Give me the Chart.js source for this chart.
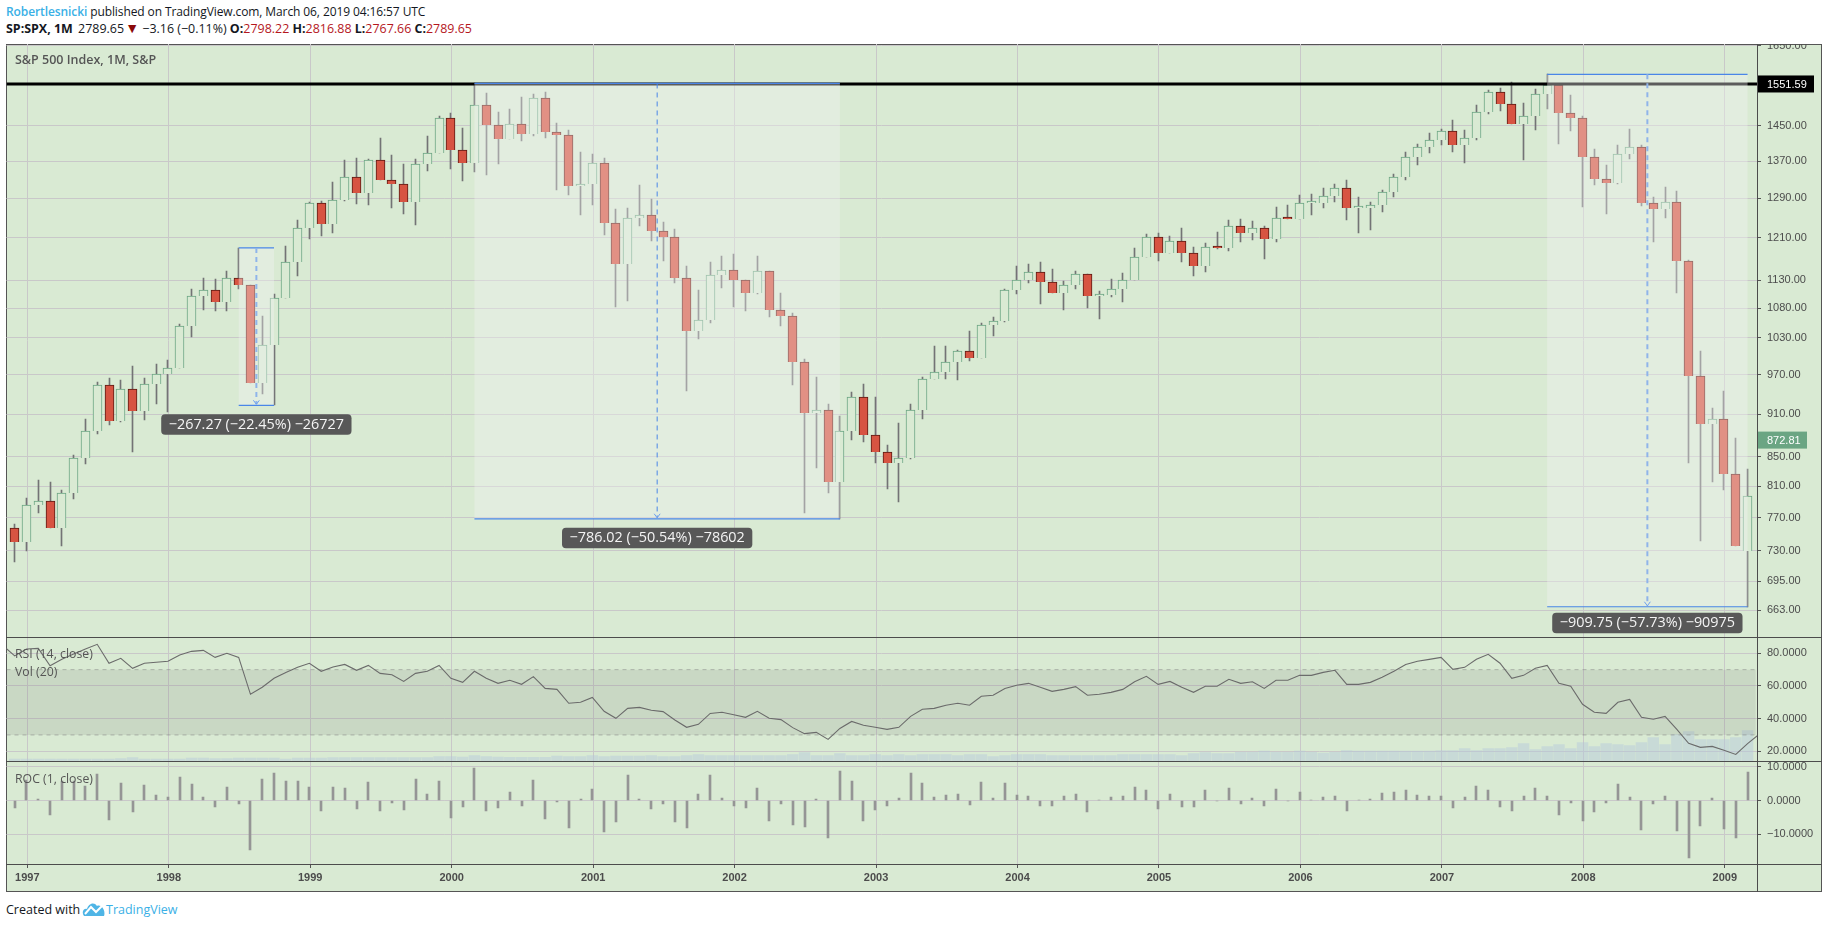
<!DOCTYPE html>
<html><head><meta charset="utf-8">
<script src="https://cdn.jsdelivr.net/npm/chart.js@4/dist/chart.umd.js"></script>
<style>
html,body{margin:0;padding:0;background:#fff;width:1828px;height:928px;overflow:hidden;font-family:"Open Sans",sans-serif;}
#frame{position:absolute;left:6px;top:44px;width:1816px;height:848px;box-sizing:border-box;background:#d9ead3;border:1.5px solid #555;}
.ln{position:absolute;background:#4c4c4c;z-index:5;}
canvas{position:absolute;left:0;z-index:2;}
.hd{position:absolute;left:6px;font-size:12px;white-space:nowrap;color:#131722;letter-spacing:-0.1px;line-height:16px;}
.hd b{font-weight:700;}
.red{color:#b5171d;}
#foot{position:absolute;left:6px;top:901px;font-size:12.5px;color:#131722;line-height:18px;white-space:nowrap;}
#foot svg{position:absolute;left:76px;top:0;}
#foot span{position:absolute;left:100px;color:#3ab0e6;}
</style></head><body>
<div id="frame"></div>
<div class="ln" style="left:6px;top:636.5px;width:1816px;height:1.5px"></div>
<div class="ln" style="left:6px;top:760.5px;width:1816px;height:1.5px"></div>
<div class="ln" style="left:6px;top:863.5px;width:1816px;height:1.5px"></div>
<div class="ln" style="left:1756.5px;top:44px;width:1.5px;height:848px"></div>
<canvas id="main" width="1828" height="593" style="top:44px"></canvas>
<canvas id="rsi" width="1828" height="124" style="top:637px"></canvas>
<canvas id="roc" width="1828" height="131" style="top:761px"></canvas>
<div class="hd" style="top:4px"><span style="color:#3ab0e6;font-weight:600">Robertlesnicki</span> published on TradingView.com, March 06, 2019 04:16:57 UTC</div>
<div class="hd" style="top:21px;font-size:12.45px;letter-spacing:0"><b>SP:SPX, 1M</b> &thinsp;2789.65 <span style="color:#8b0a0a;font-size:14px;line-height:14px;margin-left:-2px">▼</span> −3.16 (−0.11%) <b>O:</b><span class="red">2798.22</span> <b>H:</b><span class="red">2816.88</span> <b>L:</b><span class="red">2767.66</span> <b>C:</b><span class="red">2789.65</span></div>
<div id="foot">Created with
<svg width="24" height="16" viewBox="0 0 24 16"><path d="M2 15 C-1 11 2 7 5 8 C6 3 12 0 15 5 C19 3 24 9 22 15 Z" fill="#4fb5e6"/><path d="M3 13 L9 6 L14 11 L20 5" stroke="#fff" stroke-width="2" fill="none"/></svg>
<span>TradingView</span></div>

<script>
// ---- values ----
const firstMonthIndex = -1; // Dec 1996, 0 = Jan 1997
const yearTickIndex = [0,12,24,36,48,60,72,84,96,108,120,132,144];
const yearLabels = ['1997','1998','1999','2000','2001','2002','2003','2004','2005','2006','2007','2008','2009'];
const priceTicks = [663,695,730,770,810,850,910,970,1030,1080,1130,1210,1290,1370,1450,1650];
const rsiTicks = [20,40,60,80];
const rocTicks = [-10,0,10];

const opens = [757.02,
740.74,786.16,790.82,757.12,801.34,848.28,885.14,954.31,899.47,947.28,914.62,955.40,
970.43,980.28,1049.34,1101.75,1111.75,1090.82,1133.84,1120.67,957.28,1017.01,1098.67,1163.63,
1229.23,1279.64,1238.33,1286.37,1335.18,1301.84,1372.71,1328.72,1320.41,1282.71,1362.93,1388.91,
1469.25,1394.46,1366.42,1498.58,1452.43,1420.60,1454.60,1430.83,1517.68,1436.51,1429.40,1314.95,
1320.28,1366.01,1239.94,1160.33,1249.46,1255.82,1224.38,1211.23,1133.58,1040.94,1059.78,1139.45,
1148.08,1130.20,1106.73,1147.39,1076.92,1067.14,989.82,911.62,916.07,815.28,885.76,936.31,
879.82,855.70,841.15,848.18,916.92,963.59,974.50,990.31,1008.01,995.97,1050.71,1058.20,
1111.92,1131.13,1144.94,1126.21,1107.30,1120.68,1140.84,1101.72,1104.24,1114.58,1130.20,1173.82,
1211.92,1181.27,1203.60,1180.59,1156.85,1191.50,1191.33,1234.18,1220.33,1228.81,1207.01,1249.48,
1248.29,1280.08,1280.66,1294.83,1310.61,1270.09,1270.20,1276.66,1303.82,1335.85,1377.94,1400.63,
1418.30,1438.24,1406.82,1420.86,1482.37,1530.62,1503.35,1455.27,1473.99,1526.75,1549.38,1481.14,
1468.36,1378.55,1330.63,1322.70,1385.59,1400.38,1280.00,1267.38,1282.83,1166.36,968.75,896.24,
903.25,825.88,729.57];
const closes = [740.74,
786.16,790.82,757.12,801.34,848.28,885.14,954.31,899.47,947.28,914.62,955.40,970.43,
980.28,1049.34,1101.75,1111.75,1090.82,1133.84,1120.67,957.28,1017.01,1098.67,1163.63,1229.23,
1279.64,1238.33,1286.37,1335.18,1301.84,1372.71,1328.72,1320.41,1282.71,1362.93,1388.91,1469.25,
1394.46,1366.42,1498.58,1452.43,1420.60,1454.60,1430.83,1517.68,1436.51,1429.40,1314.95,1320.28,
1366.01,1239.94,1160.33,1249.46,1255.82,1224.38,1211.23,1133.58,1040.94,1059.78,1139.45,1148.08,
1130.20,1106.73,1147.39,1076.92,1067.14,989.82,911.62,916.07,815.28,885.76,936.31,879.82,
855.70,841.15,848.18,916.92,963.59,974.50,990.31,1008.01,995.97,1050.71,1058.20,1111.92,
1131.13,1144.94,1126.21,1107.30,1120.68,1140.84,1101.72,1104.24,1114.58,1130.20,1173.82,1211.92,
1181.27,1203.60,1180.59,1156.85,1191.50,1191.33,1234.18,1220.33,1228.81,1207.01,1249.48,1248.29,
1280.08,1280.66,1294.83,1310.61,1270.09,1270.20,1276.66,1303.82,1335.85,1377.94,1400.63,1418.30,
1438.24,1406.82,1420.86,1482.37,1530.62,1503.35,1455.27,1473.99,1526.75,1549.38,1481.14,1468.36,
1378.55,1330.63,1322.70,1385.59,1400.38,1280.00,1267.38,1282.83,1166.36,968.75,896.24,903.25,
825.88,735.09,797.87];
const highs = [762,
794.5,818,816,805,852,902.6,958.6,965,962,984,965,987,
993,1053,1114,1134,1132,1147,1190.58,1121,1067,1105,1194,1245.6,
1281.7,1284,1324,1372,1376,1374,1421,1383,1363.6,1374,1426.6,1474,
1480,1444.5,1552.87,1528,1483,1489,1519,1526.7,1531.6,1457,1440,1390,
1385.6,1376.8,1267.8,1270,1318,1288.6,1241.5,1227.6,1156,1112,1163.8,1175,
1178.9,1130.2,1175,1147.4,1107,1071.7,994.6,966,924.8,907.5,943.3,955.6,
935.8,866,897,925,966.5,1016,1016,1010,1041,1054,1064.8,1114,
1156,1160,1163.8,1150.8,1128.7,1147,1140.8,1110.8,1132,1143,1190,1217.6,
1219.6,1213.8,1229.5,1192.3,1200,1221.6,1245.6,1247.6,1243.4,1233.4,1272,1276,
1297,1299,1311.6,1320,1328.7,1292.6,1282,1307.6,1341.7,1390,1408,1433.5,
1442.7,1463.8,1440,1499.8,1536.6,1541.6,1555.9,1504.6,1538,1576.09,1549.4,1524,
1473,1396.9,1361,1406,1442.7,1406,1292.6,1313.7,1305,1168,1008,918.8,
944.9,875.8,832.6];
const lows = [717,
730,776,757,735,793.5,840,882,895,899,856.6,901.6,925,
913.6,980,1031.6,1077,1075,1075,1114,957,940,923.32,1098,1138,
1207,1214,1219,1285,1278,1277,1328,1270,1257.6,1235,1348,1388,
1352,1326,1346,1339,1363.6,1420,1415,1426.5,1422,1307.6,1297,1255.6,
1276,1215.7,1082,1092.7,1233.5,1204,1165.6,1125,945,1027.6,1054.6,1116,
1082,1075,1106,1065,1049.6,954.7,776,834.8,801.7,768.63,873,870,
841,806.5,789.8,847,903,963,963,962,991.8,996,1032.7,1056,
1105,1125,1087,1107,1077,1114,1080.6,1061,1099.8,1091,1130,1173,
1165.6,1181,1163.8,1137.8,1146,1188.5,1184.7,1202,1206,1169.4,1202,1248,
1248,1255.6,1270,1282,1245.6,1219.6,1225.6,1261.6,1292.6,1328.7,1361.4,1388,
1406,1390,1365.6,1417,1479,1485,1455,1372,1440,1490,1408,1438,
1272,1318,1257.6,1320,1374.5,1274.7,1202,1249.6,1107,841,742,815.7,
805,735,666.79];
const rsiFirstIndex = -2;
const rsiValues = [84.7,78.4,
82.6,83.0,72.4,76.3,79.6,82.6,85.5,73.9,76.9,70.8,73.9,74.5,
75.1,79,81.2,81.8,77.5,80,77.5,54.9,59.2,64.7,68.3,71.4,
73.9,69,71.6,73.2,69.6,72.6,67.7,66.9,62.8,67.7,69,72.6,
64.7,62.2,69,64.7,61.6,63.5,61,65.7,58.5,57.9,49.4,50,
53,44.5,40.2,46.3,46.9,45.1,44.3,39.2,34.7,36.5,43.2,43.9,
42.4,40.8,44.5,40.2,39.4,34.5,30.8,31.6,27.3,34,38.3,35.9,
34.7,33.4,34.7,41.4,45.7,46.3,48.2,49.4,48.2,53.7,54.3,58.5,
60.4,61.6,59.2,56.7,57.9,59.6,54.3,54.9,56.1,57.9,62.6,65.9,
61,62.8,59.2,56.1,59.8,59.8,64.1,61.6,62.6,58.5,63.5,63.5,
66.5,66.5,68.3,69.6,61,61,62.2,65.3,69,73.2,75.1,76.3,
77.5,70.2,71.4,76.3,79.4,73.9,64.7,66.5,70.8,72.6,61.6,59.8,
48.8,43.9,43.2,50,51.8,40.8,39.6,41.4,33.4,24.9,22.4,23,
20.6,18.1,24.7,30.5];
const volumes = [6,
6,6,6,6,6,6,6,6,7,10,6,6,
6,6,9,9,7,7,9,9,9,9,6,9,
9,9,10,10,10,10,10,10,10,10,10,13,
13,12,16,13,12,11,11,11,11,15,13,13,
16,13,15,15,15,16,13,13,16,19,16,16,
16,16,16,16,16,19,25,16,16,22,16,16,
19,16,19,16,19,19,19,16,19,19,13,16,
19,19,19,16,16,16,16,16,16,19,19,19,
19,19,16,22,25,22,22,26,26,30,26,26,
30,26,24,26,31,30,30,30,30,30,30,30,
31,31,37,31,37,37,40,52,34,43,49,37,
55,43,52,49,46,55,70,49,79,88,64,64,
64,70,91];
const rocValues = [-2.15,
6.13,0.59,-4.26,5.84,5.86,4.35,7.81,-5.75,5.32,-3.45,4.46,1.57,
1.02,7.04,4.99,0.91,-1.88,3.94,-1.16,-14.58,6.24,8.03,5.91,5.64,
4.10,-3.23,3.88,3.79,-2.50,5.44,-3.20,-0.63,-2.86,6.25,1.91,5.78,
-5.09,-2.01,9.67,-3.08,-2.19,2.39,-1.63,6.07,-5.35,-0.49,-8.01,0.41,
3.46,-9.23,-6.42,7.68,0.51,-2.50,-1.07,-6.41,-8.17,1.81,7.52,0.76,
-1.56,-2.08,3.67,-6.14,-0.91,-7.25,-7.90,0.49,-11.0,8.64,5.71,-6.03,
-2.74,-1.70,0.84,8.10,5.09,1.13,1.62,1.79,-1.19,5.50,0.71,5.08,
1.73,1.22,-1.64,-1.68,1.21,1.80,-3.43,0.23,0.94,1.40,3.86,3.25,
-2.53,1.89,-1.91,-2.01,3.00,-0.01,3.60,-1.12,0.69,-1.77,3.52,-0.10,
2.55,0.05,1.11,1.22,-3.09,0.01,0.51,2.13,2.46,3.15,1.65,1.26,
1.41,-2.18,1.00,4.33,3.25,-1.78,-3.20,1.29,3.58,1.48,-4.40,-0.86,
-6.12,-3.48,-0.60,4.75,1.07,-8.60,-0.99,1.22,-9.08,-16.94,-7.48,0.78,
-8.57,-10.99,8.54];
const levelLine = 1551.59;
const lastPrice = 872.81;
const rsiUpper = 70, rsiLower = 30;
const rangeStart = [18,38,129];
const rangeEnd = [21,69,146];
const rangeHigh = [1190.58,1552.87,1576.09];
const rangeLow = [923.32,768.63,666.79];
const rangeText = ['−267.27 (−22.45%) −26727','−786.02 (−50.54%) −78602','−909.75 (−57.73%) −90975'];

// ---- styles ----
const X_MIN=-1.696, X_MAX=146.8;
const UP='#6ba583', DOWN='#d75442', DOWN_EDGE='#5b1a13', WICK='#737375', BG='#d9ead3', GRID='#c9c8c9', AXIS='#555', TXT='#4c4c4c';
const FONT='"Liberation Sans",Arial,sans-serif', TFONT='"Open Sans",sans-serif';
const idx = k => k + firstMonthIndex;
const noPad = s => {s.paddingTop=0;s.paddingBottom=0;s.paddingLeft=0;s.paddingRight=0;};

function xAxis(show){
  return {type:'linear',min:X_MIN,max:X_MAX,offset:false,
    grid:{offset:false,color:GRID,lineWidth:1,drawTicks:show,tickLength:4,tickColor:AXIS},
    border:{display:false},
    afterBuildTicks:s=>{s.ticks=yearTickIndex.map(v=>({value:v+0.07}));},
    afterFit:s=>{s.height=show?28:0;noPad(s);},
    ticks:{display:show,autoSkip:false,maxRotation:0,padding:3,color:TXT,font:{family:FONT,size:11,weight:'bold'},
      callback:(v,i)=>yearLabels[i]}};
}
function yAxis(ticks,min,max,fmt,extra){
  return Object.assign({position:'right',min,max,beginAtZero:false,
    grid:{color:GRID,lineWidth:1,tickLength:4,tickColor:AXIS},
    border:{display:false},
    afterBuildTicks:s=>{s.ticks=ticks.map(v=>({value:v}));},
    afterFit:s=>{s.width=65;noPad(s);},
    ticks:{autoSkip:false,padding:6,color:TXT,font:{family:FONT,size:11},callback:fmt}},extra||{});
}
const base={responsive:false,animation:false,devicePixelRatio:1,
  plugins:{legend:{display:false},tooltip:{enabled:false}},
  events:[]};
function lay(){return {autoPadding:false,padding:{left:6.5,right:6,top:0,bottom:0}};}

function roundBox(c,x,y,w,h,r){c.beginPath();c.roundRect(x,y,w,h,r);c.fill();}

// keeps thin bars on whole pixels so wicks and edges stay crisp
const snapPlugin={id:'snap',beforeDatasetsDraw(ch){
  ch.getSortedVisibleDatasetMetas().forEach(m=>{
    if(m.type!=='bar')return;
    m.data.forEach(el=>{
      const odd=Math.round(el.width)%2===1;
      el.x=odd?Math.floor(el.x)+0.5:Math.round(el.x);
      el.y=Math.round(el.y);el.base=Math.round(el.base);
    });
  });
}};

const rangePlugin={id:'range',
  afterDatasetsDraw(ch){
    const c=ch.ctx,xs=ch.scales.x,ys=ch.scales.y;
    c.save();
    rangeStart.forEach((s,k)=>{
      const x0=xs.getPixelForValue(s),x1=xs.getPixelForValue(rangeEnd[k]);
      const y0=ys.getPixelForValue(rangeHigh[k]),y1=ys.getPixelForValue(rangeLow[k]);
      c.fillStyle='rgba(241,241,241,0.38)';
      c.fillRect(x0,y0,x1-x0,y1-y0);
      c.strokeStyle='#4a86e8';c.lineWidth=1.2;c.setLineDash([]);
      c.beginPath();c.moveTo(x0,y0);c.lineTo(x1,y0);c.moveTo(x0,y1);c.lineTo(x1,y1);c.stroke();
      const xm=(x0+x1)/2, thin=k===1;
      c.strokeStyle=thin?'#4a86e8':'#8fb4ea';c.lineWidth=thin?1:2;c.setLineDash([5,4]);
      c.beginPath();c.moveTo(xm,y0);c.lineTo(xm,y1-1);c.stroke();
      c.setLineDash([]);c.lineWidth=1;c.strokeStyle='#6c9fee';
      c.beginPath();c.moveTo(xm-3,y1-5);c.lineTo(xm,y1-1);c.lineTo(xm+3,y1-5);c.stroke();
    });
    c.restore();
  },
  afterDraw(ch){
    const c=ch.ctx,xs=ch.scales.x,ys=ch.scales.y;
    c.save();
    rangeStart.forEach((s,k)=>{
      const xm=(xs.getPixelForValue(s)+xs.getPixelForValue(rangeEnd[k]))/2;
      const yb=ys.getPixelForValue(rangeLow[k]);
      c.font='14.4px '+TFONT;
      const w=c.measureText(rangeText[k]).width+15;
      const top=yb+(k===2?6:9);
      c.fillStyle='#585858';
      roundBox(c,xm-w/2,top,w,20.5,4);
      c.fillStyle='#f4f4f4';c.textAlign='center';c.textBaseline='middle';
      c.fillText(rangeText[k],xm,top+10.5);
    });
    c.font='600 12.5px '+TFONT;c.fillStyle='#555';c.textAlign='left';c.textBaseline='middle';
    c.fillText('S&P 500 Index, 1M, S&P',15,16.5);
    // price tags on the axis
    const tag=(v,bg,w)=>{
      const y=ys.getPixelForValue(v),x=ch.chartArea.right;
      c.fillStyle=bg;c.fillRect(x,y-8.5,w,17);
      c.fillStyle='#fff';c.font='11px '+FONT;c.textAlign='left';c.textBaseline='middle';
      c.fillText(v.toFixed(2),x+10,y+0.5);
    };
    tag(levelLine,'#000',57);
    tag(lastPrice,UP,50);
    c.restore();
  }};

new Chart(document.getElementById('main'),{
  type:'bar',
  data:{datasets:[
    {type:'line',order:1,data:[{x:X_MIN,y:levelLine},{x:X_MAX,y:levelLine}],borderColor:'#000',borderWidth:3,pointRadius:0},
    {order:2,grouped:false,barThickness:9,minBarLength:2,borderWidth:1,
      data:opens.map((o,k)=>({x:idx(k),y:[o,closes[k]]})),
      backgroundColor:opens.map((o,k)=>closes[k]>=o?BG:DOWN),
      borderColor:opens.map((o,k)=>closes[k]>=o?UP:DOWN_EDGE)},
    {order:3,grouped:false,barThickness:1,
      data:lows.map((l,k)=>({x:idx(k),y:[l,highs[k]]})),backgroundColor:WICK}
  ]},
  options:Object.assign({},base,{layout:lay(),
    scales:{x:xAxis(false),
      y:yAxis(priceTicks,635,1655.1,v=>Number(v).toFixed(2),{type:'logarithmic'})}}),
  plugins:[snapPlugin,rangePlugin]
});

const rsiLabels={id:'rsiLabels',afterDatasetsDraw(ch){
  const c=ch.ctx;c.save();c.font='12.3px '+TFONT;c.fillStyle='#555';c.textAlign='left';c.textBaseline='middle';
  c.fillText('RSI (14, close)',15,17);c.fillText('Vol (20)',15,35);c.restore();}};
new Chart(document.getElementById('rsi'),{
  type:'bar',
  data:{datasets:[
    {type:'line',order:1,data:rsiValues.map((v,k)=>({x:k+rsiFirstIndex,y:v})),borderColor:'#6b6b6b',borderWidth:1.1,pointRadius:0,tension:0},
    {type:'line',order:2,data:[{x:X_MIN,y:rsiUpper},{x:X_MAX-0.1,y:rsiUpper}],borderColor:'rgba(130,130,130,0.5)',borderDash:[4,4],borderWidth:1,pointRadius:0,fill:'+1',backgroundColor:'rgba(94,94,94,0.12)'},
    {type:'line',order:3,data:[{x:X_MIN,y:rsiLower},{x:X_MAX-0.1,y:rsiLower}],borderColor:'rgba(130,130,130,0.5)',borderDash:[4,4],borderWidth:1,pointRadius:0},
    {order:4,grouped:false,yAxisID:'yVol',barThickness:10.8,data:volumes.map((v,k)=>({x:idx(k),y:v})),backgroundColor:'rgba(180,200,220,0.45)'}
  ]},
  options:Object.assign({},base,{layout:lay(),
    scales:{x:xAxis(false),
      y:yAxis(rsiTicks,14.06,89.98,v=>Number(v).toFixed(4)),
      yVol:{display:false,min:0,max:372,beginAtZero:true}}}),
  plugins:[rsiLabels]
});

const rocLabels={id:'rocLabels',afterDatasetsDraw(ch){
  const c=ch.ctx;c.save();c.font='12.3px '+TFONT;c.fillStyle='#555';c.textAlign='left';c.textBaseline='middle';
  c.fillText('ROC (1, close)',15,18);c.restore();}};
new Chart(document.getElementById('roc'),{
  type:'bar',
  data:{datasets:[
    {grouped:false,barThickness:2,data:rocValues.map((v,k)=>({x:idx(k),y:v})),backgroundColor:'#959595'}
  ]},
  options:Object.assign({},base,{layout:lay(),
    scales:{x:xAxis(true),
      y:yAxis(rocTicks,-18.8,11.7,v=>(v<0?'−':'')+Math.abs(Number(v)).toFixed(4))}}),
  plugins:[snapPlugin,rocLabels]
});
</script>
</body></html>
